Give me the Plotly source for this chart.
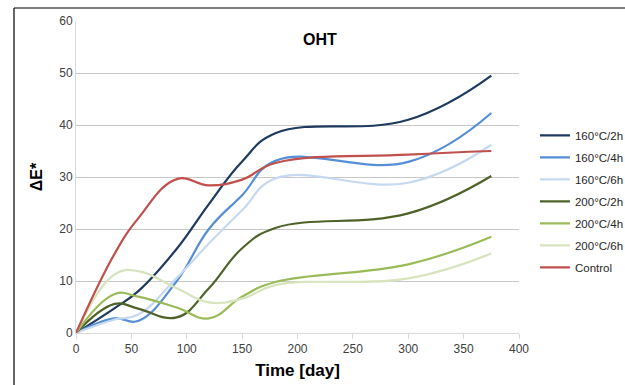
import plotly.graph_objects as go

# Measurement days and colour difference values for each treatment
days = [0, 35, 56, 91, 120, 150, 180, 300, 375]

t160_2h = [0, 4.8, 8.0, 16.2, 24.8, 33.0, 38.4, 41.0, 49.5]
t160_4h = [0, 2.8, 2.3, 10.0, 20.0, 26.5, 33.1, 32.9, 42.3]
t160_6h = [0, 2.6, 3.5, 10.6, 17.2, 23.6, 29.7, 28.9, 36.2]
t200_2h = [0, 5.6, 4.7, 3.0, 8.6, 16.3, 20.2, 23.0, 30.2]
t200_4h = [0, 7.5, 7.0, 4.9, 2.8, 7.0, 9.8, 13.2, 18.5]
t200_6h = [0, 11.3, 11.9, 8.6, 5.9, 6.6, 9.2, 10.5, 15.3]
control = [0, 15.3, 22.0, 29.6, 28.4, 29.5, 32.7, 34.3, 35.0]

series = [
    ("160°C/2h", t160_2h, "#1F3A60"),
    ("160°C/4h", t160_4h, "#558ED5"),
    ("160°C/6h", t160_6h, "#C6D9F1"),
    ("200°C/2h", t200_2h, "#4F6228"),
    ("200°C/4h", t200_4h, "#9BBB59"),
    ("200°C/6h", t200_6h, "#D7E4BD"),
    ("Control", control, "#C0504D"),
]

W, H = 625, 385
L, R, T, B = 76, 106, 21, 52

fig = go.Figure()
for name, vals, col in series:
    fig.add_trace(go.Scatter(
        x=days, y=vals, name=name, mode="lines",
        line=dict(color=col, width=2.2, shape="spline", smoothing=1.2),
        legendgroup=name,
    ))

font_family = "Liberation Sans, Arial, sans-serif"

fig.update_layout(
    width=W, height=H,
    margin=dict(l=L, r=R, t=T, b=B, autoexpand=False),
    paper_bgcolor="white", plot_bgcolor="white",
    font=dict(family=font_family, size=12, color="#404040"),
    showlegend=True,
    legend=dict(
        x=1.036, y=0.68, xanchor="left", yanchor="top",
        font=dict(size=11.5, color="#262626"),
        itemwidth=30, tracegroupgap=3,
        bgcolor="rgba(0,0,0,0)",
    ),
    xaxis=dict(
        range=[0, 400], tickvals=[0, 50, 100, 150, 200, 250, 300, 350, 400],
        showgrid=False, zeroline=False,
        showline=True, linecolor="#D9D9D9", linewidth=1,
        ticks="outside", ticklen=5, tickcolor="#D9D9D9",
        tickfont=dict(size=12, color="#404040"),
        title=dict(text="<b>Time [day]</b>", font=dict(size=17, color="#000000"), standoff=8),
    ),
    yaxis=dict(
        range=[0, 60], tickvals=[0, 10, 20, 30, 40, 50, 60],
        showgrid=True, gridcolor="#C8C8C8", gridwidth=1,
        zeroline=False,
        showline=True, linecolor="#D9D9D9", linewidth=1,
        ticks="", tickfont=dict(size=12, color="#404040"),
        title=dict(text="<b>ΔE*</b>", font=dict(size=16, color="#000000"), standoff=12),
    ),
)

# Chart title inside the plot area
fig.add_annotation(
    text="<b>OHT</b>", xref="paper", yref="paper",
    x=(320 - L) / (W - L - R), y=(H - B - 29) / (H - T - B),
    showarrow=False, font=dict(size=16, color="#000000", family=font_family),
)

# Chart frame (top and left edges)
pw, ph = W - L - R, H - T - B
x0 = (14 - L) / pw
y_top = (H - B - 8) / ph
fig.add_shape(type="line", xref="paper", yref="paper",
              x0=x0, x1=(W + 5 - L) / pw, y0=y_top, y1=y_top,
              line=dict(color="#000000", width=1.2))
fig.add_shape(type="line", xref="paper", yref="paper",
              x0=x0, x1=x0, y0=y_top, y1=-(B + 5) / ph,
              line=dict(color="#000000", width=1.2))

fig.write_html("out.html")
